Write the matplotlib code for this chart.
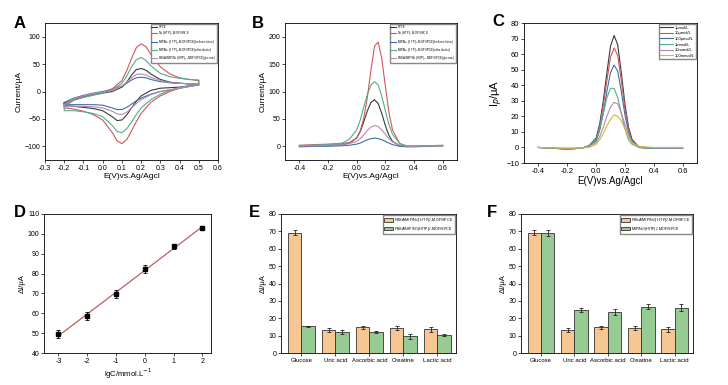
import numpy as np
import matplotlib
matplotlib.use("Agg")
import matplotlib.pyplot as plt

plt.rcParams["font.family"] = ["Liberation Sans", "DejaVu Sans"]

# ---- panel A: cyclic voltammograms (forward then reverse sweep) ----
cv_fwd_x = [-0.2, -0.15, -0.1, -0.05, 0.0, 0.05, 0.1, 0.125, 0.15, 0.175, 0.2,
            0.225, 0.25, 0.3, 0.35, 0.4, 0.45, 0.5]
cv_rev_x = [0.5, 0.45, 0.4, 0.35, 0.3, 0.25, 0.2, 0.175, 0.15, 0.125, 0.1,
            0.075, 0.05, 0.0, -0.05, -0.1, -0.15, -0.2]

cv_black_f = [-22, -14, -9, -6, -3, 0, 8, 17, 30, 40, 42, 39, 32, 22, 17, 15, 14, 13]
cv_black_r = [12, 10, 8, 7, 6, 2, -8, -18, -30, -43, -52, -53, -46, -35, -31, -29, -27, -26]
cv_red_f = [-25, -15, -10, -6, -2, 5, 20, 38, 60, 80, 87, 82, 68, 45, 32, 25, 22, 20]
cv_red_r = [14, 10, 6, 0, -8, -20, -40, -55, -72, -88, -95, -90, -75, -52, -42, -36, -32, -30]
cv_blue_f = [-20, -12, -7, -3, 0, 4, 10, 15, 21, 25, 26, 25, 22, 18, 16, 15, 14, 14]
cv_blue_r = [12, 9, 6, 3, 0, -5, -12, -17, -23, -29, -33, -33, -30, -25, -24, -24, -24, -24]
cv_green_f = [-28, -16, -11, -7, -3, 3, 15, 28, 45, 58, 62, 57, 47, 33, 27, 24, 22, 21]
cv_green_r = [15, 11, 7, 2, -5, -15, -30, -42, -56, -68, -75, -73, -62, -46, -40, -37, -35, -35]
cv_pink_f = [-24, -13, -8, -4, -1, 3, 10, 17, 25, 31, 32, 30, 26, 20, 16, 15, 14, 14]
cv_pink_r = [12, 9, 6, 3, 0, -6, -15, -22, -30, -38, -42, -41, -36, -30, -28, -27, -27, -28]

electrode_labels = [
    "SPCE",
    "Ni$_3$(HITP)$_2$-MOF/SPCE",
    "MIP/Ni$_3$(HITP)$_2$-MOF/SPCE(before elution)",
    "MIP/Ni$_3$(HITP)$_2$-MOF/SPCE(after elution)",
    "FBSA/MIP/Ni$_3$(HITP)$_2$-MOF/SPCE(glucose)",
]

# ---- panel B: DPV of the electrodes ----
dpv_x = [-0.4, -0.3, -0.2, -0.1, -0.05, 0.0, 0.025, 0.05, 0.075, 0.1, 0.125,
         0.15, 0.175, 0.2, 0.225, 0.25, 0.3, 0.35, 0.4, 0.5, 0.6]
dpv_black = [1, 1, 2, 3, 6, 15, 27, 45, 65, 80, 85, 78, 60, 38, 20, 9, 1, 0, 0, 1, 1]
dpv_red = [2, 3, 4, 5, 7, 15, 28, 52, 90, 140, 183, 190, 160, 110, 62, 30, 5, 0, 0, 1, 2]
dpv_blue = [-1, 0, 0, 1, 2, 4, 6, 9, 12, 14, 15, 14, 12, 9, 6, 3, 0, -1, -1, 0, 1]
dpv_green = [1, 2, 3, 6, 13, 30, 48, 72, 95, 112, 118, 112, 92, 65, 40, 22, 5, 1, 0, 1, 1]
dpv_pink = [1, 1, 2, 3, 5, 9, 14, 21, 29, 35, 38, 36, 30, 22, 14, 8, 2, 0, 0, 1, 1]

# ---- panel C: DPV at different glucose concentrations ----
conc_x = [-0.4, -0.3, -0.2, -0.1, -0.05, 0.0, 0.025, 0.05, 0.075, 0.1, 0.125,
          0.15, 0.175, 0.2, 0.225, 0.25, 0.3, 0.4, 0.5, 0.6]
conc_labels = ["1μmol/L", "10μmol/L", "100μmol/L", "1mmol/L", "10mmol/L", "100mmol/L"]
conc_1u = [0, -0.5, -1, -0.5, 1, 6, 15, 30, 48, 65, 72, 66, 48, 28, 13, 5, 0, -0.5, -0.5, -0.5]
conc_10u = [0, -0.5, -1, -0.5, 1, 5, 13, 27, 43, 58, 64, 59, 43, 25, 12, 4, 0, -0.5, -0.5, -0.5]
conc_100u = [0, -0.5, -1, -0.5, 1, 4, 11, 22, 36, 48, 53, 49, 36, 21, 10, 4, 0, -0.5, -0.5, -0.5]
conc_1m = [0, -0.5, -1, -0.5, 1, 5, 12, 22, 32, 38, 38, 32, 22, 12, 5, 2, 0, -0.5, -0.5, -0.5]
conc_10m = [0, -0.3, -0.5, -0.3, 0.5, 3, 7, 13, 20, 26, 29, 28, 22, 15, 8, 3, 0.5, -0.3, -0.3, -0.3]
conc_100m = [0, -0.3, -0.5, -0.3, 0, 2, 5, 9, 14, 18, 21, 20, 17, 12, 7, 3, 0.5, 0, 0, 0]

# ---- panel D: calibration ----
lgc = [-3, -2, -1, 0, 1, 2]
delta_i = [49.5, 58.5, 69.8, 82.3, 93.8, 102.8]
delta_i_err = [2.0, 2.0, 2.0, 1.8, 1.2, 1.0]

# ---- panels E, F: selectivity ----
analytes = ["Glucose", "Uric acid", "Ascorbic acid", "Creatine", "Lactic acid"]
e_mip = [69.3, 13.2, 14.9, 14.3, 13.6]
e_mip_err = [1.5, 1.0, 0.8, 1.3, 1.4]
e_nip = [15.3, 12.2, 12.0, 9.6, 10.3]
e_nip_err = [0.3, 1.0, 0.6, 1.4, 0.5]
f_fbsa = [69.3, 13.2, 14.9, 14.3, 13.6]
f_fbsa_err = [1.5, 1.0, 0.8, 1.3, 1.4]
f_mip = [69.0, 24.8, 23.5, 26.6, 26.0]
f_mip_err = [1.8, 1.2, 1.8, 1.5, 2.0]

BLACK = "#3a3a3a"
RED = "#d0575a"
BLUE = "#3f6fa8"
GREEN = "#4fae8a"
PINK = "#b48ab0"
YELLOW = "#d8b43c"
ORANGE_BAR = "#f7c793"
GREEN_BAR = "#96cc94"

W, H = 728, 385
fig = plt.figure(figsize=(W / 100, H / 100), dpi=100)


def px_axes(x0, y0, x1, y1):
    return fig.add_axes([x0 / W, 1 - y1 / H, (x1 - x0) / W, (y1 - y0) / H])


def style(ax, fs=5):
    ax.tick_params(direction="out", length=2, width=0.5, labelsize=fs, pad=1.5)
    ax.tick_params(which="minor", direction="out", length=1.2, width=0.4)
    for s in ax.spines.values():
        s.set_linewidth(0.6)


def letter(x, y, t):
    fig.text(x / W, 1 - y / H, t, fontsize=12, fontweight="bold", va="center", ha="left")


def small_legend(ax, fs, hl=2.0, ls=0.15):
    ax.legend(loc="upper right", fontsize=fs, handlelength=hl, borderpad=0.3,
              labelspacing=ls, handletextpad=0.4, borderaxespad=0.3,
              fancybox=False, edgecolor="#888888", framealpha=1)


# A
ax = px_axes(45, 23, 218, 160)
cv_sets = [(cv_black_f, cv_black_r, BLACK), (cv_red_f, cv_red_r, RED),
           (cv_blue_f, cv_blue_r, BLUE), (cv_green_f, cv_green_r, GREEN),
           (cv_pink_f, cv_pink_r, PINK)]
for (f, r, c), lab in zip(cv_sets, electrode_labels):
    ax.plot(cv_fwd_x + cv_rev_x + cv_fwd_x[:1], f + r + f[:1], color=c, lw=0.8, label=lab)
ax.set_xlim(-0.3, 0.6)
ax.set_ylim(-125, 125)
ax.set_xticks(np.arange(-0.3, 0.61, 0.1))
ax.set_xticklabels(["-0.3", "-0.2", "-0.1", "0.0", "0.1", "0.2", "0.3", "0.4", "0.5", "0.6"])
ax.set_yticks([-100, -50, 0, 50, 100])
ax.set_xlabel("E(V)vs.Ag/Agcl", fontsize=6, labelpad=1)
ax.set_ylabel("Current/μA", fontsize=6, labelpad=1)
style(ax)
small_legend(ax, 2.1)
letter(14, 24, "A")

# B
ax = px_axes(285, 23, 457, 160)
for y, c, lab in zip([dpv_black, dpv_red, dpv_blue, dpv_green, dpv_pink],
                     [BLACK, RED, BLUE, GREEN, PINK], electrode_labels):
    ax.plot(dpv_x, y, color=c, lw=0.8, label=lab)
ax.set_xlim(-0.5, 0.7)
ax.set_ylim(-25, 225)
ax.set_xticks([-0.4, -0.2, 0.0, 0.2, 0.4, 0.6])
ax.set_xticklabels(["-0.4", "-0.2", "0.0", "0.2", "0.4", "0.6"])
ax.set_yticks([0, 50, 100, 150, 200])
ax.set_xlabel("E(V)vs.Ag/Agcl", fontsize=6, labelpad=1)
ax.set_ylabel("Current/μA", fontsize=6, labelpad=1)
style(ax)
small_legend(ax, 2.1)
letter(252, 23, "B")

# C
ax = px_axes(524, 23, 697, 163)
for y, c, lab in zip([conc_1u, conc_10u, conc_100u, conc_1m, conc_10m, conc_100m],
                     [BLACK, RED, BLUE, GREEN, PINK, YELLOW], conc_labels):
    ax.plot(conc_x, y, color=c, lw=0.8, label=lab)
ax.set_xlim(-0.5, 0.7)
ax.set_ylim(-10, 80)
ax.set_xticks([-0.4, -0.2, 0.0, 0.2, 0.4, 0.6])
ax.set_xticklabels(["-0.4", "-0.2", "0.0", "0.2", "0.4", "0.6"])
ax.set_yticks(np.arange(-10, 81, 10))
ax.set_xlabel("E(V)vs.Ag/Agcl", fontsize=7, labelpad=1)
ax.set_ylabel("I$_p$/μA", fontsize=8, labelpad=1)
style(ax, 5.5)
small_legend(ax, 3.0, hl=3.0, ls=0.4)
letter(492, 22, "C")

# D
ax = px_axes(44, 214, 211, 353)
slope, icpt = np.polyfit(lgc, delta_i, 1)
xs = np.array([min(lgc), max(lgc)])
ax.plot(xs, slope * xs + icpt, color="#b9605f", lw=0.9)
ax.errorbar(lgc, delta_i, yerr=delta_i_err, fmt="s", color="black", ms=3,
            elinewidth=0.6, capsize=1.5, capthick=0.6)
ax.set_xlim(-3.5, 2.3)
ax.set_ylim(40, 110)
ax.set_xticks(lgc)
ax.set_xticklabels(["-3", "-2", "-1", "0", "1", "2"])
ax.set_yticks(np.arange(40, 111, 10))
ax.set_xlabel("lgC/mmol.L$^{-1}$", fontsize=5.5, labelpad=1)
ax.set_ylabel("ΔI/μA", fontsize=5.5, labelpad=1)
style(ax)
letter(14, 213, "D")


def bar_panel(ax, a, ae, b, be, la, lb):
    x = np.arange(len(analytes))
    w = 0.4
    kw = dict(edgecolor="#333333", linewidth=0.6,
              error_kw=dict(elinewidth=0.6, capsize=1.5, capthick=0.6, ecolor="#222222"))
    ax.bar(x - w / 2, a, w, yerr=ae, color=ORANGE_BAR, label=la, **kw)
    ax.bar(x + w / 2, b, w, yerr=be, color=GREEN_BAR, label=lb, **kw)
    ax.set_xlim(-0.6, 4.55)
    ax.set_ylim(0, 80)
    ax.set_xticks(x)
    ax.set_xticklabels(analytes)
    ax.set_yticks(np.arange(0, 81, 10))
    ax.set_ylabel("ΔI/μA", fontsize=5.5, labelpad=1)
    style(ax)
    ax.tick_params(axis="x", labelsize=4.3)
    ax.legend(loc="upper right", fontsize=2.7, handlelength=2.4, handleheight=1.0,
              borderpad=0.3, labelspacing=0.15, handletextpad=0.4, borderaxespad=0.3,
              fancybox=False, edgecolor="#888888", framealpha=1)


ax = px_axes(281, 214, 456, 353)
bar_panel(ax, e_mip, e_mip_err, e_nip, e_nip_err,
          "FBSA/MIP/Ni$_3$(HITP)$_2$-MOF/SPCE", "FBSA/NIP/Ni$_3$(HITP)$_2$-MOF/SPCE")
letter(249, 213, "E")

ax = px_axes(521, 214, 693, 353)
bar_panel(ax, f_fbsa, f_fbsa_err, f_mip, f_mip_err,
          "FBSA/MIP/Ni$_3$(HITP)$_2$-MOF/SPCE", "MIP/Ni$_3$(HITP)$_2$-MOF/SPCE")
letter(487, 213, "F")

fig.savefig("out.png", dpi=100, facecolor="white")
